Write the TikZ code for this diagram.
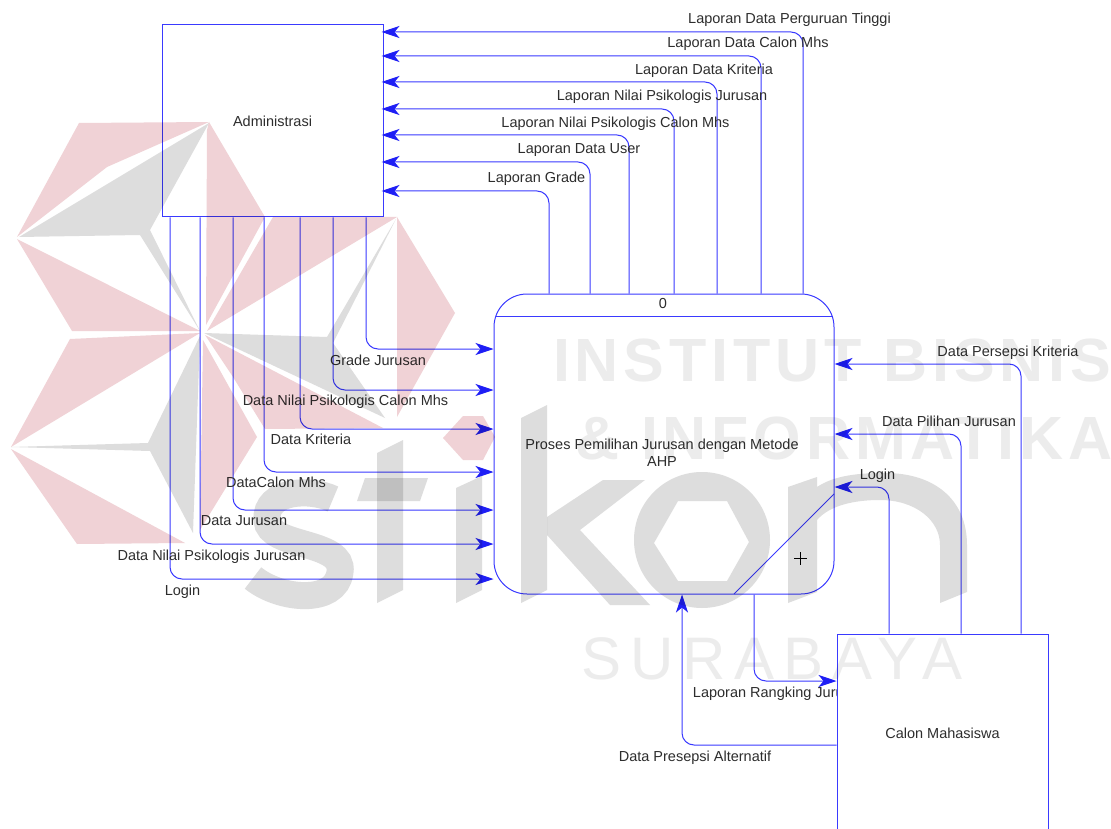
\documentclass[tikz,border=0pt]{standalone}
\usepackage{fontspec}
\setmainfont{Liberation Sans}
\newfontfamily\wmbold[LetterSpace=8]{Liberation Sans Bold}
\newfontfamily\wmreg[LetterSpace=15]{Liberation Sans}
\usetikzlibrary{arrows.meta}
\definecolor{flowblue}{RGB}{58,58,255}
\definecolor{headblue}{RGB}{30,30,245}
\definecolor{labelgray}{RGB}{45,45,45}
\definecolor{wmpink}{RGB}{240,210,214}
\definecolor{wmgray}{RGB}{221,221,221}
\definecolor{wmlight}{RGB}{236,236,236}
\tikzset{
  boxline/.style={draw=flowblue,line width=1pt,fill=white},
  entity/.style={boxline,rectangle,inner sep=0pt,align=center,font=\fontsize{14.5pt}{17pt}\selectfont,text=labelgray},
  flow/.style={draw=flowblue,line width=1pt,rounded corners=12pt,
    -{Stealth[length=18pt,width=12pt,inset=5pt,color=headblue]}},
  lab/.style={font=\fontsize{14.5pt}{17pt}\selectfont,text=labelgray,inner sep=0pt,text height=10.5pt,text depth=3pt},
  pinkpart/.style={fill=wmpink,draw=none},
  graypart/.style={fill=wmgray,draw=none},
}
\begin{document}
\begin{tikzpicture}[x=1pt,y=-1pt]
\useasboundingbox (0,0) rectangle (1111,829);
\fill[white] (0,0) rectangle (1111,829);

% labels that run behind boxes come first
\node[lab] (lr) at (780,694) {Laporan Rangking Jurusan};

% boxes
\node[entity,minimum width=221pt,minimum height=192pt] (admin) at (272.5,121) {Administrasi};
\node[entity,minimum width=340pt,minimum height=300pt,rounded corners=33pt] (proc) at (664,444) {};
\node[entity,minimum width=211pt,minimum height=198pt] (calon) at (942.5,733) {Calon Mahasiswa};
\node[lab,align=center,text height=,text depth=] (proctext) at (662,453) {Proses Pemilihan Jurusan dengan Metode\\AHP};
\node[lab] (pid) at (663,305) {0};
\draw[draw=flowblue,line width=1pt,shorten <=2pt,shorten >=2pt] (proc.west |- 0,316) -- (proc.east |- 0,316);
\coordinate (diagA) at (834,494);
\coordinate (diagB) at (734,594);
\draw[draw=flowblue,line width=1pt] (diagA) -- (diagB);
\coordinate (plusc) at (800.5,558);
\draw[black,line width=.8pt] ([xshift=-6.5pt]plusc) -- ([xshift=6.5pt]plusc) ([yshift=-6.5pt]plusc) -- ([yshift=6.5pt]plusc);

% connectors: process to Administrasi
\foreach \x/\y in {803/32,761/56,717/82,674/109,629/135,590/162,549/191}{
  \draw[flow,shorten >=-2pt] (proc.north -| \x,0) |- (admin.east |- 0,\y);
}
% connectors: Administrasi to process
\foreach \x/\y in {366/349,333/390,300/429,264/472,233/510,200/544,170/579}{
  \draw[flow] (admin.south -| \x,0) |- (proc.west |- 0,\y);
}
% connectors: Calon Mahasiswa and process
\draw[flow] (calon.north -| 1021,0) |- (proc.east |- 0,364);
\draw[flow] (calon.north -| 961,0) |- (proc.east |- 0,434);
\draw[flow] (calon.north -| 889,0) |- (proc.east |- 0,487);
\draw[flow] (proc.south -| 754,0) |- (calon.west |- 0,681);
\draw[flow] (calon.west |- 0,745) -| (proc.south -| 682,0);

% labels
\node[lab] (l1) at (789.5,20) {Laporan Data Perguruan Tinggi};
\node[lab] (l2) at (748,44) {Laporan Data Calon Mhs};
\node[lab] (l3) at (704,71) {Laporan Data Kriteria};
\node[lab] (l4) at (662,97) {Laporan Nilai Psikologis Jurusan};
\node[lab] (l5) at (615.5,124) {Laporan Nilai Psikologis Calon Mhs};
\node[lab] (l6) at (579,150) {Laporan Data User};
\node[lab] (l7) at (536.5,179) {Laporan Grade};
\node[lab] (i1) at (378,362) {Grade Jurusan};
\node[lab] (i2) at (345.5,402) {Data Nilai Psikologis Calon Mhs};
\node[lab] (i3) at (311,441) {Data Kriteria};
\node[lab] (i4) at (276,484) {DataCalon Mhs};
\node[lab] (i5) at (244,522) {Data Jurusan};
\node[lab] (i6) at (211.5,557) {Data Nilai Psikologis Jurusan};
\node[lab] (i7) at (182.5,592) {Login};
\node[lab] (c1) at (1008,353) {Data Persepsi Kriteria};
\node[lab] (c2) at (949,423) {Data Pilihan Jurusan};
\node[lab] (c3) at (877.5,476) {Login};
\node[lab] (c4) at (695,758) {Data Presepsi Alternatif};

% watermark, printed over the whole diagram
\begin{scope}[blend mode=multiply]
  % star
  \fill[pinkpart] (79,123) -- (209,122) -- (107,167) -- (17,237) -- cycle;
  \fill[graypart] (209,123) -- (19,237) -- (140,235) -- (200,331) -- (150,230) -- cycle;
  \fill[pinkpart] (17,239) -- (200,331) -- (72,331) -- cycle;
  \fill[pinkpart] (70,339) -- (200,333) -- (11,447) -- cycle;
  \fill[graypart] (200,336) -- (148,443) -- (11,447) -- (150,451) -- (193,533) -- cycle;
  \fill[pinkpart] (11,449) -- (185,543) -- (77,544) -- cycle;
  \fill[pinkpart] (203,340) -- (257,437) -- (200,530) -- cycle;
  \fill[pinkpart] (209,122) -- (265,217) -- (206,325) -- (207,130) -- cycle;
  \fill[pinkpart] (397,217) -- (273,217) -- (207,331) -- cycle;
  \fill[pinkpart] (397,217) -- (455,313) -- (397,417) -- cycle;
  \fill[graypart] (396,219) -- (327,337) -- (204,333) -- (385,418) -- (333,343) -- cycle;
  \fill[pinkpart] (205,335) -- (383,428) -- (265,429) -- (233,377) -- cycle;
  \fill[pinkpart] (463,416) -- (483,416) -- (495,437) -- (483,460) -- (463,460) -- (443,438) -- cycle;
  % logo letters
  \draw[wmgray,line width=27pt] (333,499) .. controls (310,488) and (265,490) .. (267,520) .. controls (268,548) and (345,540) .. (340,572) .. controls (336,605) and (280,600) .. (253,578);
  \fill[graypart] (377,453) -- (403,440) -- (403,590) -- (377,603) -- cycle;
  \fill[graypart] (365,478) -- (428,478) -- (420,501) -- (357,501) -- cycle;
  \fill[graypart] (456,488) -- (482,476) -- (482,590) -- (456,603) -- cycle;
  \fill[graypart] (521,418) -- (547,405) -- (547,590) -- (521,603) -- cycle;
  \fill[graypart] (547,517) -- (603,480) -- (645,480) -- (580,530) -- (650,605) -- (610,605) -- (547,535) -- cycle;
  \fill[graypart,even odd rule] (702,540) circle[radius=68pt]
     (678,501) -- (727,501) -- (749,542) -- (727,581) -- (678,581) -- (654,543) -- cycle;
  \fill[graypart] (788,487) -- (817,477) -- (817,487) .. controls (835,475) and (860,473) .. (885,473) .. controls (935,473) and (967,500) .. (967,545) -- (967,592) -- (940,603) -- (940,545) .. controls (940,520) and (915,500) .. (880,500) .. controls (855,500) and (830,505) .. (817,520) -- (817,592) -- (788,603) -- cycle;
  % words
  \node[anchor=west,inner sep=0pt,text=wmlight,font=\fontsize{61pt}{61pt}\wmbold] (w1) at (553,360) {INSTITUT BISNIS};
  \node[anchor=west,inner sep=0pt,text=wmlight,font=\fontsize{61pt}{61pt}\wmbold] (w2) at (575,438) {\& INFORMATIKA};
  \node[anchor=west,inner sep=0pt,text=wmlight,font=\fontsize{60pt}{60pt}\wmreg] (w3) at (581,659) {SURABAYA};
\end{scope}
\end{tikzpicture}
\end{document}
